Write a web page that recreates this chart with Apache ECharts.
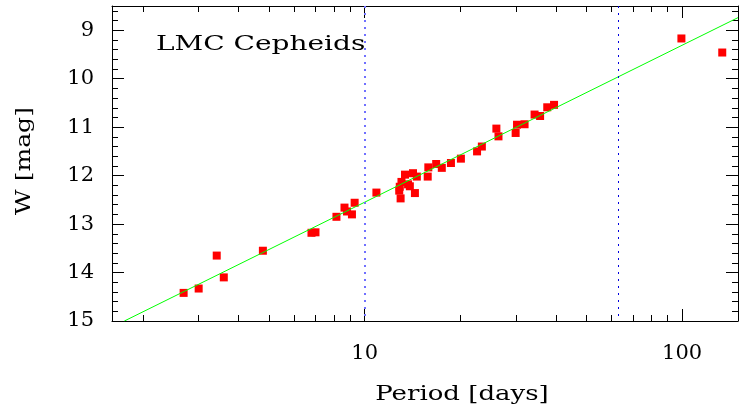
<!DOCTYPE html>
<html><head><meta charset="utf-8">
<script src="https://cdn.jsdelivr.net/npm/echarts@6/dist/echarts.min.js"></script>
<style>html,body{margin:0;padding:0;background:#fff}#c{width:739px;height:408px}</style>
</head><body><div id="c"></div>
<script>
// Cepheid data (period in days, Wesenheit magnitude)
const periods = [2.69, 3.00, 3.42, 3.60, 4.78, 6.80, 7.00, 8.15, 8.64, 8.80, 9.12, 9.30,
  10.89, 12.85, 12.98, 13.06, 12.90, 13.40, 13.70, 13.88, 14.20, 14.60, 14.40,
  15.80, 15.87, 16.80, 17.50, 18.70, 20.10, 22.60, 23.40, 26.00, 26.40, 29.90,
  30.20, 31.90, 34.30, 35.70, 37.60, 39.50, 99.5, 133.8];
const wmags = [14.42, 14.33, 13.65, 14.10, 13.55, 13.18, 13.17, 12.85, 12.66, 12.74, 12.80, 12.56,
  12.35, 12.31, 12.47, 12.13, 12.23, 11.98, 12.18, 12.22, 11.95, 12.02, 12.36,
  12.02, 11.83, 11.76, 11.84, 11.74, 11.65, 11.50, 11.40, 11.03, 11.19, 11.12,
  10.95, 10.94, 10.74, 10.77, 10.59, 10.54, 9.17, 9.46];
// fitted P-L relation end points
const fitP = [1.75, 150];
const fitW = [15.0, 8.74];
// vertical reference periods
const refPeriods = [10, 63];
// axis ticks
const xMajor = [10, 100];
const xMinor = [2, 3, 4, 5, 6, 7, 8, 9, 20, 30, 40, 50, 60, 70, 80, 90];
const yMajor = [9, 10, 11, 12, 13, 14, 15];
const yMinor = [8.6, 8.8, 9.2, 9.4, 9.6, 9.8, 10.2, 10.4, 10.6, 10.8, 11.2, 11.4, 11.6, 11.8,
  12.2, 12.4, 12.6, 12.8, 13.2, 13.4, 13.6, 13.8, 14.2, 14.4, 14.6, 14.8];

const FONT = 'DejaVu Serif';
const chart = echarts.init(document.getElementById('c'), null, {renderer: 'canvas'});

function xAx(pos, ticks, len, showLine, showLabel) {
  return {
    type: 'log', logBase: 10, min: 1.6, max: 150, position: pos, gridIndex: 0,
    axisLine: {show: showLine, onZero: false, lineStyle: {color: '#000', width: 1}},
    axisTick: {show: true, inside: true, length: len, customValues: ticks, lineStyle: {color: '#000', width: 1}},
    minorTick: {show: false},
    axisLabel: showLabel ? {show: true, customValues: xMajor, margin: 22, color: '#000', fontFamily: FONT, fontSize: 21} : {show: false},
    splitLine: {show: false}
  };
}
function yAx(pos, ticks, len, showLine, showLabel) {
  return {
    type: 'value', inverse: true, min: 8.5, max: 15, position: pos, gridIndex: 0,
    axisLine: {show: showLine, onZero: false, lineStyle: {color: '#000', width: 1}},
    axisTick: {show: true, inside: true, length: len, customValues: ticks, lineStyle: {color: '#000', width: 1}},
    minorTick: {show: false},
    axisLabel: showLabel ? {show: true, customValues: yMajor, margin: 18, color: '#000', fontFamily: FONT, fontSize: 21} : {show: false},
    splitLine: {show: false}
  };
}

const option = {
  animation: false,
  backgroundColor: '#fff',
  grid: {left: 112, right: 1, top: 6, bottom: 87, containLabel: false},
  xAxis: [
    xAx('bottom', xMajor, 12, true, true),
    xAx('bottom', xMinor, 6, false, false),
    xAx('top', xMajor, 12, true, false),
    xAx('top', xMinor, 6, false, false)
  ],
  yAxis: [
    yAx('left', yMajor, 12, true, true),
    yAx('left', yMinor, 6, false, false),
    yAx('right', yMajor, 12, true, false),
    yAx('right', yMinor, 6, false, false)
  ],
  series: [
    {
      type: 'scatter', xAxisIndex: 0, yAxisIndex: 0, z: 2,
      symbol: 'rect', symbolSize: 8,
      itemStyle: {color: '#ff0000', opacity: 1},
      data: periods.map((p, i) => [p, wmags[i]])
    },
    {
      type: 'line', xAxisIndex: 0, yAxisIndex: 0, z: 3,
      symbol: 'none', clip: true,
      lineStyle: {color: '#00ff00', width: 1},
      data: fitP.map((p, i) => [p, fitW[i]]),
      markLine: {
        silent: true, symbol: 'none', label: {show: false},
        data: [
          {xAxis: refPeriods[0], lineStyle: {color: '#7070ff', width: 2, type: [2, 5]}},
          {xAxis: refPeriods[1], lineStyle: {color: '#0000e0', width: 1, type: [2, 5]}}
        ]
      }
    }
  ],
  graphic: [
    {type: 'text', x: 156, y: 35, scaleX: 1.4, style: {text: 'LMC Cepheids', fill: '#000', font: '20px "DejaVu Serif"', textAlign: 'left', textVerticalAlign: 'top'}},
    {type: 'text', x: 462, y: 385, scaleX: 1.3, style: {text: 'Period [days]', fill: '#000', font: '20px "DejaVu Serif"', textAlign: 'center', textVerticalAlign: 'top'}},
    {type: 'text', x: 25, y: 161, rotation: Math.PI / 2, scaleX: 1.25, style: {text: 'W [mag]', fill: '#000', font: '20px "DejaVu Serif"', textAlign: 'center', textVerticalAlign: 'middle'}}
  ]
};
chart.setOption(option);
</script>
</body></html>
